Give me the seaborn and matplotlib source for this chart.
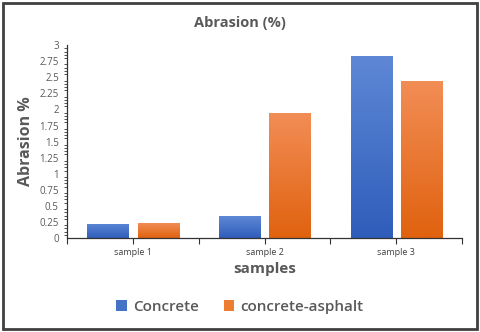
import numpy as np
import pandas as pd
import matplotlib
matplotlib.use("Agg")
import matplotlib.pyplot as plt
import matplotlib.ticker as mticker
from matplotlib.colors import LinearSegmentedColormap
from matplotlib.patches import Rectangle, Patch
import seaborn as sns

samples = ["sample 1", "sample 2", "sample 3"]
concrete = [0.22, 0.34, 2.83]
concrete_asphalt = [0.23, 1.94, 2.44]
series_names = ["Concrete", "concrete-asphalt"]
colors = ["#4472C4", "#ED7D31"]
# top / bottom shades for the gradient fill
grad = [("#5E88D6", "#2F5DBA"), ("#F28D55", "#E0620F")]

df = pd.DataFrame({
    "samples": samples * 2,
    "value": concrete + concrete_asphalt,
    "type": [series_names[0]] * 3 + [series_names[1]] * 3,
})

sns.set_style("white")
plt.rcParams["font.family"] = ["Open Sans", "DejaVu Sans"]
txt = "#595959"

fig = plt.figure(figsize=(4.8, 3.32), dpi=100)
ax = fig.add_axes([0.14, 0.283, 0.8225, 0.581])

sns.barplot(data=df, x="samples", y="value", hue="type", palette=colors,
            width=0.76, gap=0.18, ax=ax, legend=False, saturation=1)

# gradient fill, clipped to each bar
bars = ax.patches[:6]
for i, bar in enumerate(bars):
    top_c, bot_c = grad[i // 3]
    cmap = LinearSegmentedColormap.from_list("g", [bot_c, top_c])
    x0, y0 = bar.get_x(), bar.get_y()
    w, h = bar.get_width(), bar.get_height()
    im = ax.imshow(np.linspace(0, 1, 100).reshape(-1, 1), cmap=cmap, origin="lower",
                   extent=[x0, x0 + w, y0, y0 + h], aspect="auto", zorder=bar.get_zorder())
    im.set_clip_path(bar)
    bar.set_edgecolor("#d0d0d0")
    bar.set_linewidth(0.6)
ax.set_xlim(-0.5, 2.5)
ax.set_ylim(0, 3)

ax.yaxis.set_major_locator(mticker.MultipleLocator(0.25))
ax.yaxis.set_major_formatter(mticker.FuncFormatter(lambda v, p: f"{v:g}"))
ax.yaxis.set_minor_locator(mticker.MultipleLocator(0.05))
ax.set_xticks([-0.5, 0.5, 1.5, 2.5], minor=True)
ax.tick_params(axis="y", which="major", length=4, width=0.8, color="#333333",
               labelsize=7, labelcolor=txt, pad=2)
ax.tick_params(axis="y", which="minor", length=2, width=0.6, color="#333333", left=True)
ax.tick_params(axis="x", which="both", length=4, width=0.8, color="#333333",
               labelsize=6.5, labelcolor="#404040", bottom=True, pad=3)

for s in ["top", "right"]:
    ax.spines[s].set_visible(False)
for s in ["left", "bottom"]:
    ax.spines[s].set_color("#333333")
    ax.spines[s].set_linewidth(0.9)

ax.set_xlabel("samples", fontsize=11, fontweight="bold", color=txt, labelpad=4)
ax.set_ylabel("Abrasion %", fontsize=11.5, fontweight="bold", color=txt, labelpad=4)
fig.text(0.5, 0.932, "Abrasion (%)", ha="center", va="center",
         fontsize=10.5, fontweight="bold", color=txt)

handles = [Patch(facecolor=c, edgecolor="none") for c in colors]
fig.legend(handles, series_names, loc="center", bbox_to_anchor=(0.5, 0.075),
           ncol=2, frameon=False, prop={"size": 11, "weight": "semibold"},
           labelcolor=txt, handlelength=0.7, handleheight=0.7,
           handletextpad=0.4, columnspacing=1.6)

fig.patches.append(Rectangle((0.006, 0.008), 0.988, 0.984, transform=fig.transFigure,
                             fill=False, edgecolor="#404040", linewidth=2))

fig.savefig("out.png", dpi=100)
